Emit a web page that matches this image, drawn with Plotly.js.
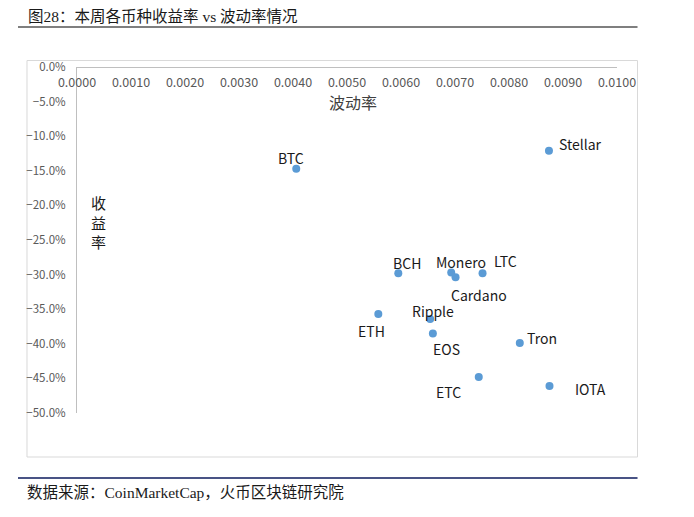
<!DOCTYPE html>
<html>
<head>
<meta charset="utf-8">
<script src="https://cdn.plot.ly/plotly-3.0.1.min.js"></script>
<style>
html,body{margin:0;padding:0;background:#fff;}
#chart{width:694px;height:517px;}
</style>
</head>
<body>
<div id="chart"></div>
<script>
// Data
const coins = ['BTC','Stellar','BCH','Monero','LTC','Cardano','ETH','Ripple','EOS','Tron','ETC','IOTA'];
const volatility = [0.00406,0.00874,0.00595,0.00693,0.00751,0.00701,0.00558,0.00654,0.00659,0.00820,0.00744,0.00875];
const returns = [-0.147,-0.121,-0.298,-0.297,-0.298,-0.304,-0.357,-0.364,-0.385,-0.399,-0.448,-0.461];
const xTicks = [0,0.001,0.002,0.003,0.004,0.005,0.006,0.007,0.008,0.009,0.01];
const yTicks = [0,-0.05,-0.1,-0.15,-0.2,-0.25,-0.3,-0.35,-0.4,-0.45,-0.5];

// label offsets (pixels) — style only
const labelDX = [-5,32,9,10,23,23,-7,3,14,22,-30,41];
const labelDY = [11,7,10,11,12,-18,-17,8,-16,5,-15,-3];

const FONT = '"Noto Sans CJK SC", "Noto Sans", sans-serif';
const SERIF = '"Liberation Serif", "Noto Sans CJK SC", serif';

const trace = {
  type: 'scatter',
  mode: 'markers',
  x: volatility,
  y: returns,
  marker: {color: '#5b9bd5', size: 8},
  hoverinfo: 'skip',
  cliponaxis: false
};

const annotations = coins.map((c, i) => ({
  x: volatility[i], y: returns[i], xref: 'x', yref: 'y',
  text: c, showarrow: false,
  xanchor: 'center', yanchor: 'middle',
  xshift: labelDX[i], yshift: labelDY[i],
  font: {family: FONT, size: 14, color: '#1a1a1a'}
}));

annotations.push({
  xref: 'paper', yref: 'paper', x: 0.511, y: 0.8988,
  xanchor: 'center', yanchor: 'middle',
  text: '波动率', showarrow: false,
  font: {family: FONT, size: 16, color: '#404040'}
});
annotations.push({
  xref: 'paper', yref: 'paper', x: 0.0407, y: 0.552,
  xanchor: 'center', yanchor: 'middle',
  text: '收<br>益<br>率', showarrow: false,
  font: {family: FONT, size: 15, color: '#1a1a1a'}
});
annotations.push({
  xref: 'paper', yref: 'paper', x: -0.0963, y: -0.2283,
  xanchor: 'left', yanchor: 'middle',
  text: '数据来源：CoinMarketCap，火币区块链研究院', showarrow: false,
  font: {family: SERIF, size: 15.5, color: '#1a1a1a'}
});

const layout = {
  width: 694, height: 517,
  margin: {l: 77, r: 77, t: 67, b: 104},
  paper_bgcolor: '#ffffff', plot_bgcolor: '#ffffff',
  showlegend: false,
  title: {
    text: '图28：本周各币种收益率 vs 波动率情况',
    xref: 'container', yref: 'container',
    x: 28/694, xanchor: 'left', y: 1 - 17/517, yanchor: 'middle',
    font: {family: SERIF, size: 15.5, color: '#1a1a1a'}
  },
  xaxis: {
    range: [0, 0.01], anchor: 'free', position: 1, side: 'bottom',
    tickvals: xTicks, tickformat: '.4f',
    showline: true, linecolor: '#bfbfbf', linewidth: 1,
    showgrid: false, zeroline: false, ticks: '',
    ticklabelstandoff: 4,
    tickfont: {family: FONT, size: 12.5, color: '#595959'},
    fixedrange: true
  },
  yaxis: {
    range: [-0.5, 0], tickvals: yTicks, tickformat: '.1%',
    showline: true, linecolor: '#bfbfbf', linewidth: 1,
    showgrid: false, zeroline: false, ticks: '',
    ticklabelstandoff: 8,
    tickfont: {family: FONT, size: 11.5, color: '#595959'},
    fixedrange: true
  },
  shapes: [
    {type: 'rect', xref: 'paper', yref: 'paper', x0: -0.0926, x1: 1.038, y0: -0.1272, y1: 1.0188,
     line: {color: '#d9d9d9', width: 1}, fillcolor: 'rgba(0,0,0,0)', layer: 'below'},
    {type: 'line', xref: 'paper', yref: 'paper', x0: -0.1093, x1: 1.038, y0: 1.1156, y1: 1.1156,
     line: {color: '#000000', width: 1.2}},
    {type: 'line', xref: 'paper', yref: 'paper', x0: -0.1093, x1: 1.038, y0: -0.1879, y1: -0.1879,
     line: {color: '#0d1a5c', width: 1.5}}
  ],
  annotations: annotations
};

Plotly.newPlot('chart', [trace], layout, {staticPlot: true, displayModeBar: false});
</script>
</body>
</html>
